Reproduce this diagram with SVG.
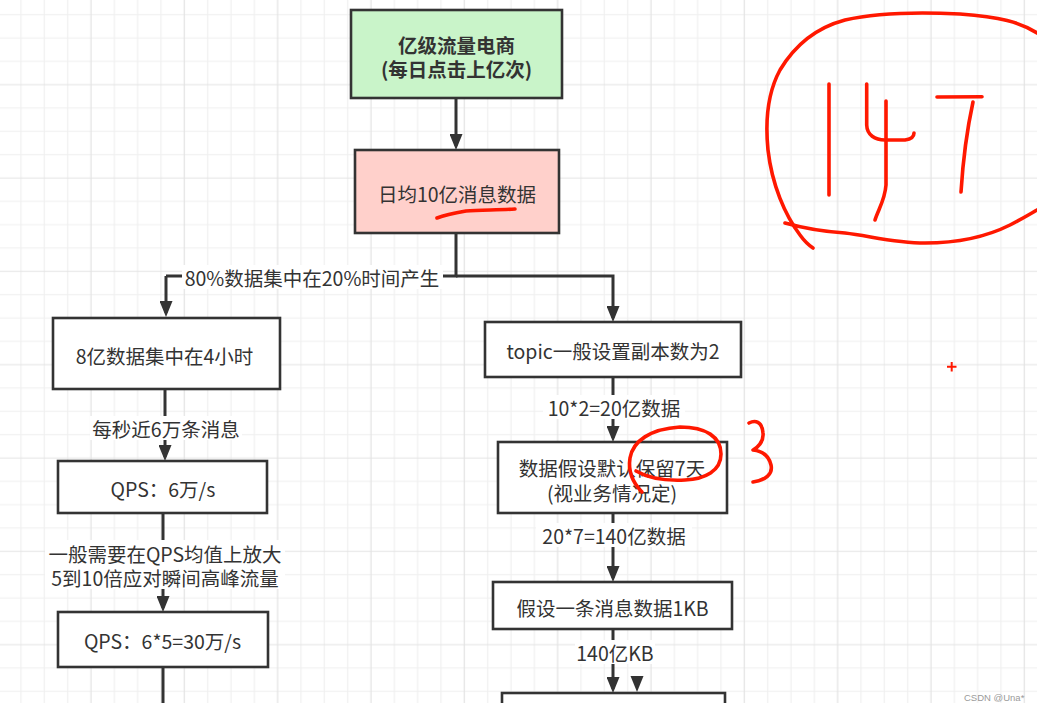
<svg xmlns="http://www.w3.org/2000/svg" width="1037" height="703" viewBox="0 0 1037 703">
  <style>
    .node rect { stroke: #333333; stroke-width: 2.6; }
    .t { font-family: "Noto Sans CJK SC", "Noto Sans", sans-serif; font-size: 19.5px; fill: #333333; text-anchor: middle; dominant-baseline: central; }
    .b { font-weight: 700; }
    .edge { fill: none; stroke: #333333; stroke-width: 3; marker-end: url(#arr); }
    .line { fill: none; stroke: #333333; stroke-width: 3; }
    .lbg { fill: #ffffff; }
    .ink { fill: none; stroke: #ff1800; stroke-width: 3.6; stroke-linecap: round; stroke-linejoin: round; }
  </style>
  <defs>
    <pattern id="grid" x="9.33" y="3.03" width="93.333" height="93.333" patternUnits="userSpaceOnUse">
      <path d="M11.67,0 V93.333 M35,0 V93.333 M58.33,0 V93.333 M0,11.67 H93.333 M0,35 H93.333 M0,58.33 H93.333" stroke="#f0f0f0" stroke-width="1.2" fill="none"/>
      <path d="M81.67,0 V93.333 M0,81.67 H93.333" stroke="#e3e3e3" stroke-width="1.2" fill="none"/>
    </pattern>
    <marker id="arr" markerUnits="userSpaceOnUse" markerWidth="16" markerHeight="13" refX="12" refY="6.5" orient="auto">
      <path d="M0,0 L16,6.5 L0,13 Z" fill="#333333"/>
    </marker>
  </defs>

  <rect x="0" y="0" width="1037" height="703" fill="#ffffff"/>
  <rect x="0" y="0" width="1037" height="703" fill="url(#grid)"/>

  <g id="connectors">
    <path class="edge" d="M456,99 V146"/>
    <path class="line" d="M456,233 V276 H166"/>
    <path class="edge" d="M166,276 V313"/>
    <path class="edge" d="M456,276 H613 V318"/>
    <path class="edge" d="M165,389 V457"/>
    <path class="edge" d="M163,513 V608"/>
    <path class="line" d="M163,667 V703"/>
    <path class="edge" d="M613,377 V438"/>
    <path class="edge" d="M613,513 V578"/>
    <path class="edge" d="M613,629 V689"/>
    <polygon points="630.5,676 643.5,676 637,692" fill="#333333"/>

    <rect class="lbg" x="182" y="265" width="261" height="24"/>
    <text class="t" x="312" y="277">80%数据集中在20%时间产生</text>
    <rect class="lbg" x="90" y="416" width="152" height="24"/>
    <text class="t" x="166" y="428">每秒近6万条消息</text>
    <rect class="lbg" x="45" y="540" width="240" height="49"/>
    <text class="t" x="165" y="553">一般需要在QPS均值上放大</text>
    <text class="t" x="165" y="577">5到10倍应对瞬间高峰流量</text>
    <rect class="lbg" x="543" y="395" width="142" height="24"/>
    <text class="t" x="614" y="407">10*2=20亿数据</text>
    <rect class="lbg" x="536" y="523" width="156" height="24"/>
    <text class="t" x="614" y="535">20*7=140亿数据</text>
    <rect class="lbg" x="575" y="640" width="80" height="24"/>
    <text class="t" x="615" y="652">140亿KB</text>
  </g>

  <g id="node-top" class="node">
    <rect x="351" y="10" width="211" height="88" fill="#c9f4c9"/>
    <text class="t b" x="456.5" y="44.5">亿级流量电商</text>
    <text class="t b" x="456.5" y="68.5">(每日点击上亿次)</text>
  </g>
  <g id="node-daily" class="node">
    <rect x="355" y="150" width="204" height="83" fill="#ffd0cb"/>
    <text class="t" x="457" y="193">日均10亿消息数据</text>
  </g>
  <g id="node-8yi" class="node">
    <rect x="53" y="318" width="227" height="71" fill="#ffffff"/>
    <text class="t" x="164.5" y="355">8亿数据集中在4小时</text>
  </g>
  <g id="node-qps6" class="node">
    <rect x="58" y="461" width="209" height="52" fill="#ffffff"/>
    <text class="t" x="163" y="488">QPS：6万/s</text>
  </g>
  <g id="node-qps30" class="node">
    <rect x="58" y="612" width="210" height="55" fill="#ffffff"/>
    <text class="t" x="162.5" y="640">QPS：6*5=30万/s</text>
  </g>
  <g id="node-topic" class="node">
    <rect x="485" y="322" width="256" height="55" fill="#ffffff"/>
    <text class="t" x="613" y="350">topic一般设置副本数为2</text>
  </g>
  <g id="node-retain" class="node">
    <rect x="498" y="442" width="229" height="71" fill="#ffffff"/>
    <text class="t" x="612" y="467">数据假设默认保留7天</text>
    <text class="t" x="612" y="492">(视业务情况定)</text>
  </g>
  <g id="node-1kb" class="node">
    <rect x="493" y="582" width="239" height="47" fill="#ffffff"/>
    <text class="t" x="612.5" y="607">假设一条消息数据1KB</text>
  </g>
  <g id="node-bottom" class="node">
    <rect x="502" y="693" width="223" height="40" fill="#ffffff"/>
  </g>

  <g id="annotations">
    <path class="ink" d="M437,218 C445,215 455,213 466,211 C480,210 500,210 515,209"/>
    <path class="ink" d="M642,492 C633,483 628,471 630,458 C633,441 650,429 680,427 C706,427 721,437 721,454 C721,471 705,479 685,480 C665,481 648,478 636,471"/>
    <path class="ink" d="M749,423 C755,420 762,421 763,433 C764,442 757,448 753,450 C762,451 769,456 771,465 C773,474 766,480 753,482"/>
    <path class="ink" d="M1037,33 C1020,22 1000,17 960,14 C920,12 880,12 845,20 C815,28 795,45 780,70 C768,92 765,120 768,150 C772,185 785,215 800,235 C805,242 810,246 813,248"/>
    <path class="ink" d="M785,223 C810,230 830,232 845,233 C870,236 895,243 925,243 C960,243 990,235 1010,225 C1020,220 1030,214 1037,210"/>
    <path class="ink" d="M829,84 L829,195"/>
    <path class="ink" d="M866.7,84 L866.7,125 C867,135 875,140 885,140 L905,140 C912,139 914,136 914,133"/>
    <path class="ink" d="M886,101 L886,185 C885,200 878,210 875,220"/>
    <path class="ink" d="M937,97 L982,96.7"/>
    <path class="ink" d="M973,102 C968,125 963,160 961,192"/>
    <path d="M947,366.7 H956.5 M951.7,362 V371.5" stroke="#ff1800" stroke-width="2" fill="none"/>
  </g>

  <text x="964" y="701" font-family="Liberation Sans, Arial, sans-serif" font-size="9.5" fill="#9a9a9a">CSDN @Una*</text>
</svg>
